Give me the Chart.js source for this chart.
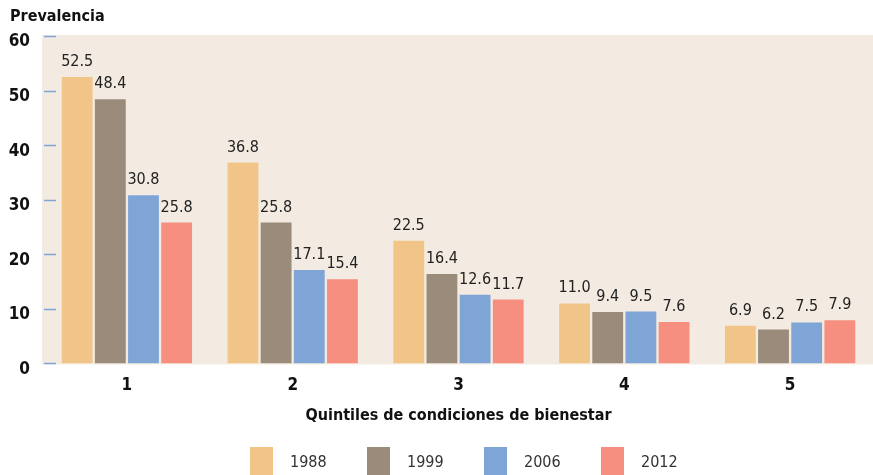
<!DOCTYPE html>
<html>
<head>
<meta charset="utf-8">
<script src="https://cdn.jsdelivr.net/npm/chart.js@4.4.1/dist/chart.umd.min.js"></script>
<style>
  html, body { margin: 0; padding: 0; background: #fff; }
  #wrap { width: 873px; height: 475px; position: relative; }
</style>
</head>
<body>
<div id="wrap"><canvas id="myChart"></canvas></div>
<script>
const FONT = "'Liberation Sans Narrow', 'DejaVu Sans Condensed', 'Arial Narrow', sans-serif";

const quintiles = ["1", "2", "3", "4", "5"];
const years = ["1988", "1999", "2006", "2012"];
const v1988 = [52.5, 36.8, 22.5, 11.0, 6.9];
const v1999 = [48.4, 25.8, 16.4, 9.4, 6.2];
const v2006 = [30.8, 17.1, 12.6, 9.5, 7.5];
const v2012 = [25.8, 15.4, 11.7, 7.6, 7.9];
const colors = ["#F1C587", "#9B8B7B", "#7EA5D6", "#F68F80"];

const ctx = document.getElementById("myChart");

// fondo beige del area de grafico + marcas cortas del eje y
const plotBg = {
  id: "plotBg",
  beforeDraw(chart) {
    const { ctx, chartArea } = chart;
    ctx.save();
    ctx.fillStyle = "#F3EBE1";
    ctx.fillRect(chartArea.left - 2, chartArea.top - 1, chart.width - chartArea.left + 2, chartArea.bottom - chartArea.top + 2);
    const y = chart.scales.y;
    ctx.strokeStyle = "#7EA5D6";
    ctx.lineWidth = 1.5;
    y.ticks.forEach(t => {
      const py = Math.round(y.getPixelForValue(t.value)) + 0.5;
      ctx.beginPath();
      ctx.moveTo(chartArea.left, py);
      ctx.lineTo(chartArea.left + 12, py);
      ctx.stroke();
    });
    ctx.restore();
  }
};

const valueLabels = {
  id: "valueLabels",
  afterDatasetsDraw(chart) {
    const { ctx } = chart;
    ctx.save();
    ctx.font = "16px " + FONT;
    ctx.fillStyle = "#222";
    ctx.textAlign = "center";
    ctx.textBaseline = "alphabetic";
    chart.data.datasets.forEach((ds, i) => {
      chart.getDatasetMeta(i).data.forEach((bar, j) => {
        ctx.fillText(ds.data[j].toFixed(1), bar.x, bar.y - 11);
      });
    });
    ctx.restore();
  }
};

const extras = {
  id: "extras",
  afterDraw(chart) {
    const { ctx } = chart;
    ctx.save();
    ctx.fillStyle = "#111";
    ctx.font = "bold 16px " + FONT;
    ctx.textBaseline = "middle";
    ctx.textAlign = "left";
    ctx.fillText("Prevalencia", 10, 17);
    // leyenda
    ctx.font = "16px " + FONT;
    chart.data.datasets.forEach((ds, i) => {
      const x = 250 + i * 117;
      ctx.fillStyle = ds.backgroundColor;
      ctx.fillRect(x, 447, 23, 28);
      ctx.fillStyle = "#333";
      ctx.fillText(ds.label, x + 40, 463);
    });
    ctx.restore();
  }
};

const config = {
  type: "bar",
  data: {
    labels: quintiles,
    datasets: [
      { label: years[0], data: v1988, backgroundColor: colors[0] },
      { label: years[1], data: v1999, backgroundColor: colors[1] },
      { label: years[2], data: v2006, backgroundColor: colors[2] },
      { label: years[3], data: v2012, backgroundColor: colors[3] },
    ],
  },
  options: {
    responsive: true,
    maintainAspectRatio: false,
    animation: false,
    layout: { padding: { top: 36, right: -5, bottom: 50, left: 0 } },
    datasets: {
      bar: { categoryPercentage: 0.8, barPercentage: 0.93 },
    },
    scales: {
      x: {
        grid: { display: false, drawTicks: false },
        border: { display: false },
        ticks: { color: "#111", font: { family: FONT, size: 17, weight: "bold" }, padding: 12 },
        title: {
          display: true,
          text: "Quintiles de condiciones de bienestar",
          color: "#111",
          font: { family: FONT, size: 16, weight: "bold" },
          padding: { top: -2, bottom: 0 },
        },
      },
      y: {
        min: 0,
        max: 60,
        afterFit: s => { s.width = 44; },
        grid: { display: false, drawTicks: false },
        border: { display: false },
        ticks: { stepSize: 10, color: "#111", font: { family: FONT, size: 17, weight: "bold" }, padding: 14, labelOffset: 6 },
      },
    },
    plugins: {
      legend: { display: false },
      tooltip: { enabled: false },
    },
  },
  plugins: [plotBg, valueLabels, extras],
};
myChart = new Chart(ctx, config);
</script>
</body>
</html>
